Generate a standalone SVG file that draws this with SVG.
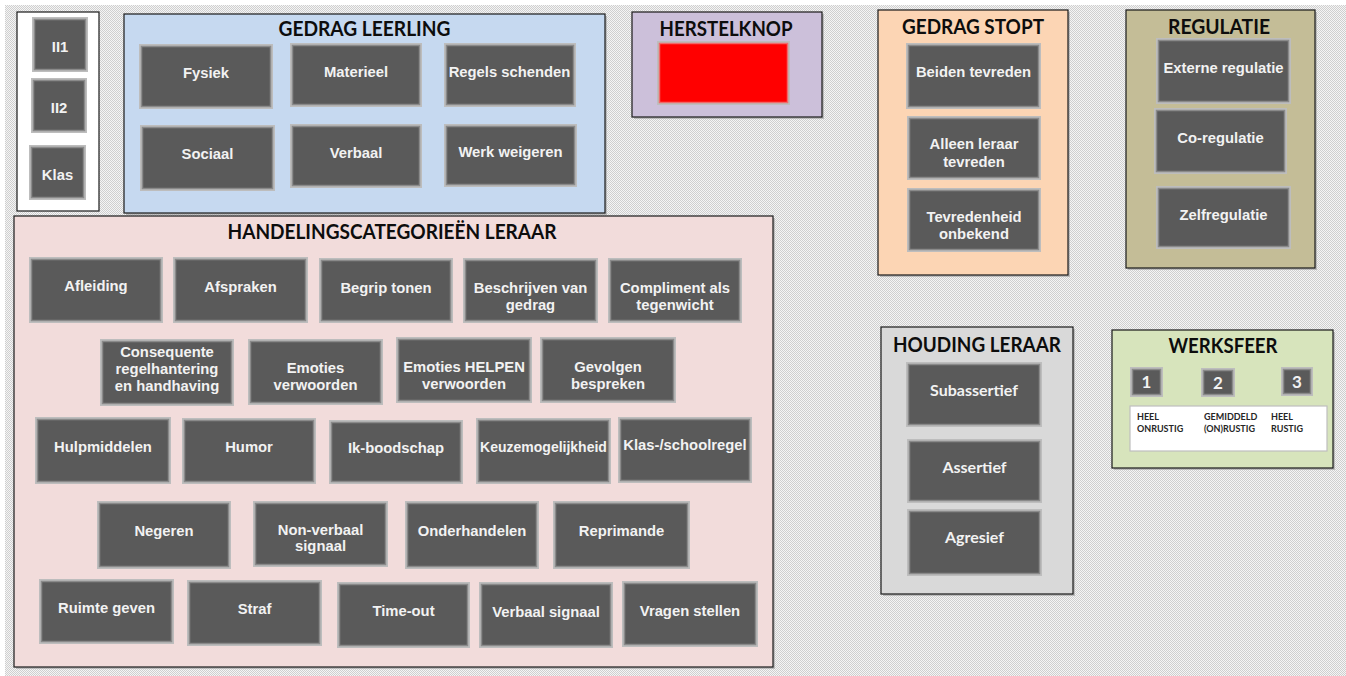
<svg xmlns="http://www.w3.org/2000/svg" width="1346" height="676" viewBox="0 0 1346 676">
<defs>
<pattern id="chk" patternUnits="userSpaceOnUse" width="2" height="2">
<rect width="2" height="2" fill="#f5f5f5"/>
<rect width="1" height="1" fill="#cfcfcf"/>
<rect x="1" y="1" width="1" height="1" fill="#cfcfcf"/>
</pattern>
</defs>
<style>
.pn{stroke:#1a1a1a;stroke-width:1.2}
.sh{fill:#9a9a9a;opacity:0.55}
.bo{fill:#bdbdbd}
.bi{fill:#5a5a5a;stroke:#8a8a8a;stroke-width:1.5}
.bt{font-family:"Liberation Sans",Arial,sans-serif;font-weight:bold;font-size:14.8px;fill:#f2f2f2;text-anchor:middle}
.bc{font-family:Lato,"Open Sans",sans-serif;font-weight:bold;font-size:16px;fill:#f2f2f2;text-anchor:middle}
.bn{font-family:Lato,"Open Sans",sans-serif;font-weight:bold;font-size:17px;fill:#f2f2f2;text-anchor:middle}
.hd{font-family:Lato,"Open Sans",sans-serif;font-weight:bold;font-size:20px;fill:#0d0d0d;text-anchor:middle}
.sm{font-family:Lato,"Open Sans",sans-serif;font-weight:bold;font-size:9px;fill:#262626}
</style>
<rect width="1346" height="676" fill="#ffffff"/>
<rect x="5" y="5" width="1341" height="671" fill="url(#chk)"/>

<g id="panel-left">
<rect class="pn" x="17" y="12" width="82" height="199" fill="#ffffff"/>
</g>
<g id="panel-gedrag-leerling">
<rect class="sh" x="126" y="16" width="481" height="199"/>
<rect class="pn" x="124" y="14" width="481" height="199" fill="#c6d9f0"/>
<text class="hd" x="364.5" y="35.5" textLength="172" lengthAdjust="spacingAndGlyphs">GEDRAG LEERLING</text>
</g>
<g id="panel-handelingscategorieen">
<rect class="sh" x="16" y="218" width="759" height="451"/>
<rect class="pn" x="14" y="216" width="759" height="451" fill="#f2dcdb"/>
<text class="hd" x="392" y="238.5" textLength="329" lengthAdjust="spacingAndGlyphs">HANDELINGSCATEGORIEËN LERAAR</text>
</g>
<g id="panel-herstelknop">
<rect class="sh" x="634" y="14" width="190" height="105"/>
<rect class="pn" x="632" y="12" width="190" height="105" fill="#ccc0da"/>
<text class="hd" x="726" y="35.5" textLength="133" lengthAdjust="spacingAndGlyphs">HERSTELKNOP</text>
</g>
<g id="panel-gedrag-stopt">
<rect class="sh" x="880" y="12" width="190" height="265"/>
<rect class="pn" x="878" y="10" width="190" height="265" fill="#fcd5b4"/>
<text class="hd" x="973" y="34" textLength="142" lengthAdjust="spacingAndGlyphs">GEDRAG STOPT</text>
</g>
<g id="panel-regulatie">
<rect class="sh" x="1128" y="12" width="189" height="258"/>
<rect class="pn" x="1126" y="10" width="189" height="258" fill="#c4bd97"/>
<text class="hd" x="1219" y="34" textLength="102" lengthAdjust="spacingAndGlyphs">REGULATIE</text>
</g>
<g id="panel-houding-leraar">
<rect class="sh" x="883" y="329" width="192" height="267"/>
<rect class="pn" x="881" y="327" width="192" height="267" fill="#d9d9d9"/>
<text class="hd" x="977" y="351.5" textLength="168" lengthAdjust="spacingAndGlyphs">HOUDING LERAAR</text>
</g>
<g id="panel-werksfeer">
<rect class="sh" x="1114" y="332" width="221" height="138"/>
<rect class="pn" x="1112" y="330" width="221" height="138" fill="#d7e4bc"/>
<text class="hd" x="1223" y="353" textLength="109" lengthAdjust="spacingAndGlyphs">WERKSFEER</text>
<rect x="1130" y="406" width="197" height="45" fill="#ffffff" stroke="#bfbfbf" stroke-width="1.2"/>
<text class="sm" x="1137" y="420">HEEL</text>
<text class="sm" x="1137" y="432">ONRUSTIG</text>
<text class="sm" x="1204" y="420">GEMIDDELD</text>
<text class="sm" x="1204" y="432">(ON)RUSTIG</text>
<text class="sm" x="1271" y="420">HEEL</text>
<text class="sm" x="1271" y="432">RUSTIG</text>
</g>

<g id="ii1"><rect class="bo" x="32" y="17" width="56" height="55"/><rect class="bi" x="34.5" y="19.5" width="51" height="50"/><text class="bt" x="60" y="51.5">II1</text></g>
<g id="ii2"><rect class="bo" x="31" y="78" width="56" height="55"/><rect class="bi" x="33.5" y="80.5" width="51" height="50"/><text class="bt" x="59" y="112.5">II2</text></g>
<g id="klas"><rect class="bo" x="29" y="145" width="57" height="55"/><rect class="bi" x="31.5" y="147.5" width="52" height="50"/><text class="bt" x="57.5" y="180">Klas</text></g>

<g id="fysiek"><rect class="bo" x="139" y="44" width="134" height="65"/><rect class="bi" x="141.5" y="46.5" width="129" height="60"/><text class="bt" x="206" y="77.5">Fysiek</text></g>
<g id="materieel"><rect class="bo" x="290" y="43" width="132" height="64"/><rect class="bi" x="292.5" y="45.5" width="127" height="59"/><text class="bt" x="356" y="77">Materieel</text></g>
<g id="regels-schenden"><rect class="bo" x="444" y="43" width="132" height="64"/><rect class="bi" x="446.5" y="45.5" width="127" height="59"/><text class="bt" x="509.5" y="77">Regels schenden</text></g>
<g id="sociaal"><rect class="bo" x="140" y="125" width="135" height="66"/><rect class="bi" x="142.5" y="127.5" width="130" height="61"/><text class="bt" x="207.5" y="159">Sociaal</text></g>
<g id="verbaal"><rect class="bo" x="290" y="124" width="132" height="64"/><rect class="bi" x="292.5" y="126.5" width="127" height="59"/><text class="bt" x="356" y="157.5">Verbaal</text></g>
<g id="werk-weigeren"><rect class="bo" x="444" y="124" width="133" height="63"/><rect class="bi" x="446.5" y="126.5" width="128" height="58"/><text class="bt" x="510.5" y="157">Werk weigeren</text></g>

<g id="herstelknop-knop"><rect class="bo" x="657" y="41" width="133" height="64"/><rect x="659.5" y="43.5" width="128" height="59" fill="#ff0000" stroke="#f06a6a" stroke-width="1.5"/></g>

<g id="beiden-tevreden"><rect class="bo" x="906" y="43" width="135" height="66"/><rect class="bi" x="908.5" y="45.5" width="130" height="61"/><text class="bt" x="973.5" y="77">Beiden tevreden</text></g>
<g id="alleen-leraar-tevreden"><rect class="bo" x="907" y="116" width="134" height="64"/><rect class="bi" x="909.5" y="118.5" width="129" height="59"/><text class="bt" x="974" y="149">Alleen leraar</text><text class="bt" x="974" y="166.5">tevreden</text></g>
<g id="tevredenheid-onbekend"><rect class="bo" x="907" y="188" width="134" height="64"/><rect class="bi" x="909.5" y="190.5" width="129" height="59"/><text class="bt" x="974" y="221.5">Tevredenheid</text><text class="bt" x="974" y="238.5">onbekend</text></g>

<g id="externe-regulatie"><rect class="bo" x="1156" y="38" width="135" height="66"/><rect class="bi" x="1158.5" y="40.5" width="130" height="61"/><text class="bt" x="1223.5" y="73">Externe regulatie</text></g>
<g id="co-regulatie"><rect class="bo" x="1154" y="108" width="133" height="66"/><rect class="bi" x="1156.5" y="110.5" width="128" height="61"/><text class="bt" x="1220.5" y="142.5">Co-regulatie</text></g>
<g id="zelfregulatie"><rect class="bo" x="1156" y="186" width="135" height="63"/><rect class="bi" x="1158.5" y="188.5" width="130" height="58"/><text class="bt" x="1223.5" y="219.5">Zelfregulatie</text></g>

<g id="subassertief"><rect class="bo" x="906" y="362" width="136" height="65"/><rect class="bi" x="908.5" y="364.5" width="131" height="60"/><text class="bc" x="974" y="396">Subassertief</text></g>
<g id="assertief"><rect class="bo" x="907" y="439" width="135" height="64"/><rect class="bi" x="909.5" y="441.5" width="130" height="59"/><text class="bc" x="974.5" y="473">Assertief</text></g>
<g id="agresief"><rect class="bo" x="907" y="509" width="135" height="67"/><rect class="bi" x="909.5" y="511.5" width="130" height="62"/><text class="bc" x="974.5" y="543">Agresief</text></g>

<g id="ws1"><rect class="bo" x="1130" y="367" width="33" height="30"/><rect class="bi" x="1132.5" y="369.5" width="28" height="25"/><text class="bn" x="1146.5" y="388">1</text></g>
<g id="ws2"><rect class="bo" x="1201" y="368" width="34" height="29"/><rect class="bi" x="1203.5" y="370.5" width="29" height="24"/><text class="bn" x="1218" y="388.5">2</text></g>
<g id="ws3"><rect class="bo" x="1281" y="367" width="32" height="29"/><rect class="bi" x="1283.5" y="369.5" width="27" height="24"/><text class="bn" x="1297" y="387.5">3</text></g>

<g id="afleiding"><rect class="bo" x="29" y="257" width="134" height="66"/><rect class="bi" x="31.5" y="259.5" width="129" height="61"/><text class="bt" x="96" y="291">Afleiding</text></g>
<g id="afspraken"><rect class="bo" x="173" y="257" width="135" height="66"/><rect class="bi" x="175.5" y="259.5" width="130" height="61"/><text class="bt" x="240.5" y="291.5">Afspraken</text></g>
<g id="begrip-tonen"><rect class="bo" x="319" y="258" width="134" height="65"/><rect class="bi" x="321.5" y="260.5" width="129" height="60"/><text class="bt" x="386" y="293">Begrip tonen</text></g>
<g id="beschrijven-van-gedrag"><rect class="bo" x="463" y="258" width="135" height="65"/><rect class="bi" x="465.5" y="260.5" width="130" height="60"/><text class="bt" x="530.5" y="293">Beschrijven van</text><text class="bt" x="530.5" y="310">gedrag</text></g>
<g id="compliment-als-tegenwicht"><rect class="bo" x="608" y="258" width="134" height="65"/><rect class="bi" x="610.5" y="260.5" width="129" height="60"/><text class="bt" x="675" y="293">Compliment als</text><text class="bt" x="675" y="310">tegenwicht</text></g>

<g id="consequente-regelhantering"><rect class="bo" x="100" y="339" width="134" height="67"/><rect class="bi" x="102.5" y="341.5" width="129" height="62"/><text class="bt" x="167" y="357">Consequente</text><text class="bt" x="167" y="374">regelhantering</text><text class="bt" x="167" y="390.5">en handhaving</text></g>
<g id="emoties-verwoorden"><rect class="bo" x="248" y="339" width="135" height="66"/><rect class="bi" x="250.5" y="341.5" width="130" height="61"/><text class="bt" x="315.5" y="373">Emoties</text><text class="bt" x="315.5" y="390">verwoorden</text></g>
<g id="emoties-helpen-verwoorden"><rect class="bo" x="396" y="337" width="136" height="66"/><rect class="bi" x="398.5" y="339.5" width="131" height="61"/><text class="bt" x="464" y="372">Emoties HELPEN</text><text class="bt" x="464" y="388.5">verwoorden</text></g>
<g id="gevolgen-bespreken"><rect class="bo" x="540" y="337" width="136" height="66"/><rect class="bi" x="542.5" y="339.5" width="131" height="61"/><text class="bt" x="608" y="372">Gevolgen</text><text class="bt" x="608" y="388.5">bespreken</text></g>

<g id="hulpmiddelen"><rect class="bo" x="35" y="417" width="136" height="67"/><rect class="bi" x="37.5" y="419.5" width="131" height="62"/><text class="bt" x="103" y="452">Hulpmiddelen</text></g>
<g id="humor"><rect class="bo" x="182" y="418" width="134" height="66"/><rect class="bi" x="184.5" y="420.5" width="129" height="61"/><text class="bt" x="249" y="452">Humor</text></g>
<g id="ik-boodschap"><rect class="bo" x="329" y="420" width="134" height="64"/><rect class="bi" x="331.5" y="422.5" width="129" height="59"/><text class="bt" x="396" y="453">Ik-boodschap</text></g>
<g id="keuzemogelijkheid"><rect class="bo" x="476" y="418" width="135" height="66"/><rect class="bi" x="478.5" y="420.5" width="130" height="61"/><text class="bt" x="543.5" y="452" style="font-size:14px">Keuzemogelijkheid</text></g>
<g id="klas-schoolregel"><rect class="bo" x="618" y="417" width="134" height="66"/><rect class="bi" x="620.5" y="419.5" width="129" height="61"/><text class="bt" x="685" y="449.5">Klas-/schoolregel</text></g>

<g id="negeren"><rect class="bo" x="97" y="501" width="134" height="68"/><rect class="bi" x="99.5" y="503.5" width="129" height="63"/><text class="bt" x="164" y="535.5">Negeren</text></g>
<g id="non-verbaal-signaal"><rect class="bo" x="253" y="501" width="135" height="66"/><rect class="bi" x="255.5" y="503.5" width="130" height="61"/><text class="bt" x="320.5" y="534.5">Non-verbaal</text><text class="bt" x="320.5" y="551">signaal</text></g>
<g id="onderhandelen"><rect class="bo" x="405" y="501" width="134" height="68"/><rect class="bi" x="407.5" y="503.5" width="129" height="63"/><text class="bt" x="472" y="535.5">Onderhandelen</text></g>
<g id="reprimande"><rect class="bo" x="553" y="501" width="137" height="68"/><rect class="bi" x="555.5" y="503.5" width="132" height="63"/><text class="bt" x="621.5" y="535.5">Reprimande</text></g>

<g id="ruimte-geven"><rect class="bo" x="39" y="579" width="135" height="65"/><rect class="bi" x="41.5" y="581.5" width="130" height="60"/><text class="bt" x="106.5" y="612.5">Ruimte geven</text></g>
<g id="straf"><rect class="bo" x="187" y="580" width="135" height="66"/><rect class="bi" x="189.5" y="582.5" width="130" height="61"/><text class="bt" x="254.5" y="613.5">Straf</text></g>
<g id="time-out"><rect class="bo" x="337" y="582" width="133" height="66"/><rect class="bi" x="339.5" y="584.5" width="128" height="61"/><text class="bt" x="403.5" y="615.5">Time-out</text></g>
<g id="verbaal-signaal"><rect class="bo" x="479" y="582" width="134" height="66"/><rect class="bi" x="481.5" y="584.5" width="129" height="61"/><text class="bt" x="546" y="616.5">Verbaal signaal</text></g>
<g id="vragen-stellen"><rect class="bo" x="622" y="581" width="136" height="66"/><rect class="bi" x="624.5" y="583.5" width="131" height="61"/><text class="bt" x="690" y="615.5">Vragen stellen</text></g>

<g id="connectors"></g>
</svg>
